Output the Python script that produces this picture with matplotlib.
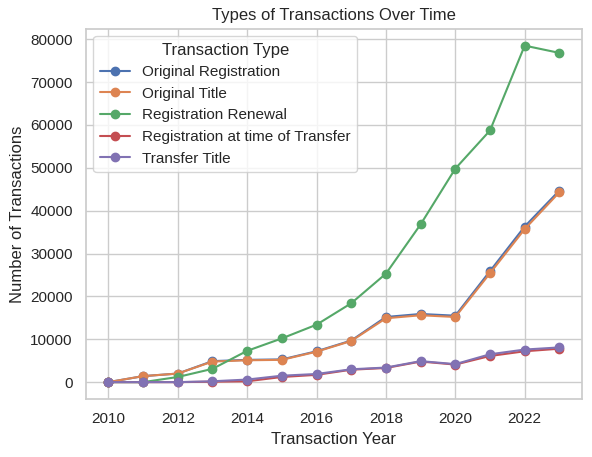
import matplotlib
matplotlib.use("Agg")
import matplotlib.pyplot as plt
import seaborn as sns

sns.set_theme(style="whitegrid")
plt.rcParams["font.family"] = ["Liberation Sans", "DejaVu Sans"]

years = list(range(2010, 2024))
original_registration = [0, 1400, 2000, 4900, 5200, 5300, 7200, 9700, 15200, 15900, 15500, 25900, 36300, 44700]
original_title = [0, 1400, 2000, 4800, 5100, 5200, 7100, 9600, 14900, 15600, 15200, 25400, 35700, 44300]
registration_renewal = [0, 0, 1200, 3100, 7300, 10200, 13400, 18400, 25300, 36800, 49800, 58700, 78500, 76800]
registration_transfer = [0, 0, 0, 100, 200, 1200, 1700, 2900, 3300, 4800, 4100, 6100, 7200, 7800]
transfer_title = [0, 0, 0, 200, 600, 1500, 1900, 3000, 3400, 4900, 4200, 6500, 7600, 8100]

series = {
    "Original Registration": original_registration,
    "Original Title": original_title,
    "Registration Renewal": registration_renewal,
    "Registration at time of Transfer": registration_transfer,
    "Transfer Title": transfer_title,
}

fig = plt.figure(figsize=(5.92, 4.57), dpi=100)
ax = fig.add_axes([0.145, 0.127, 0.838, 0.810])
for name, vals in series.items():
    ax.plot(years, vals, marker="o", label=name)

ax.set_title("Types of Transactions Over Time")
ax.set_xlabel("Transaction Year")
ax.set_ylabel("Number of Transactions")
ax.legend(title="Transaction Type", loc="upper left")
fig.savefig("out.png", dpi=100)
